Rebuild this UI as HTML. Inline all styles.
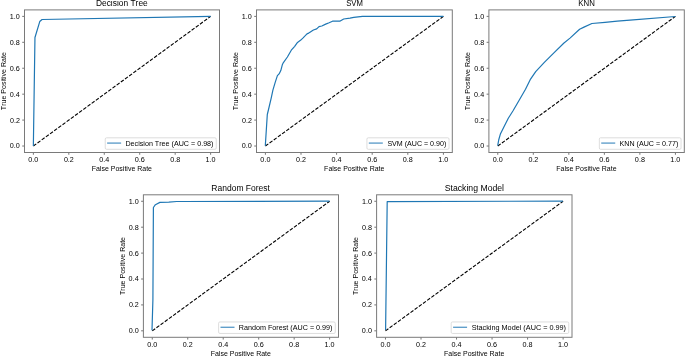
<!DOCTYPE html>
<html><head><meta charset="utf-8"><style>
html,body{margin:0;padding:0;background:#fff;}
body{width:685px;height:356px;overflow:hidden;}
svg{display:block;}
text{font-family:"Liberation Sans",sans-serif;font-kerning:none;}
svg{will-change:transform;}
.sp{fill:none;stroke:#7a7a7a;stroke-width:1.0;}
.tk{stroke:#000;stroke-width:0.55;}
.dg{stroke:#000;stroke-width:1.1;stroke-dasharray:3.6 1.56;}
.cv{fill:none;stroke:#1f77b4;stroke-width:1.2;stroke-linejoin:round;stroke-linecap:butt;}
.lg{fill:#fff;fill-opacity:0.8;stroke:#d4d4d4;stroke-width:0.8;}
.lh{stroke:#1f77b4;stroke-width:0.98;}
</style></head><body>
<svg width="685" height="356" viewBox="0 0 685 356">
<rect width="685" height="356" fill="#fff"/>
<g><line x1="33.36" y1="152.50" x2="33.36" y2="154.78" class="tk"/>
<line x1="22.23" y1="146.02" x2="24.50" y2="146.02" class="tk"/>
<text x="28.34" y="161.99" font-size="6.89" textLength="10.04" lengthAdjust="spacingAndGlyphs" fill="#000">0.0</text>
<text x="9.79" y="148.49" font-size="6.89" textLength="10.04" lengthAdjust="spacingAndGlyphs" fill="#000">0.0</text>
<line x1="68.82" y1="152.50" x2="68.82" y2="154.78" class="tk"/>
<line x1="22.23" y1="120.09" x2="24.50" y2="120.09" class="tk"/>
<text x="63.91" y="161.99" font-size="6.89" textLength="9.89" lengthAdjust="spacingAndGlyphs" fill="#000">0.2</text>
<text x="10.01" y="122.56" font-size="6.89" textLength="9.89" lengthAdjust="spacingAndGlyphs" fill="#000">0.2</text>
<line x1="104.27" y1="152.50" x2="104.27" y2="154.78" class="tk"/>
<line x1="22.23" y1="94.16" x2="24.50" y2="94.16" class="tk"/>
<text x="99.22" y="161.99" font-size="6.89" textLength="10.04" lengthAdjust="spacingAndGlyphs" fill="#000">0.4</text>
<text x="9.72" y="96.63" font-size="6.89" textLength="10.04" lengthAdjust="spacingAndGlyphs" fill="#000">0.4</text>
<line x1="139.73" y1="152.50" x2="139.73" y2="154.78" class="tk"/>
<line x1="22.23" y1="68.24" x2="24.50" y2="68.24" class="tk"/>
<text x="134.69" y="161.99" font-size="6.89" textLength="10.10" lengthAdjust="spacingAndGlyphs" fill="#000">0.6</text>
<text x="9.77" y="70.71" font-size="6.89" textLength="10.10" lengthAdjust="spacingAndGlyphs" fill="#000">0.6</text>
<line x1="175.18" y1="152.50" x2="175.18" y2="154.78" class="tk"/>
<line x1="22.23" y1="42.31" x2="24.50" y2="42.31" class="tk"/>
<text x="170.17" y="161.99" font-size="6.89" textLength="10.06" lengthAdjust="spacingAndGlyphs" fill="#000">0.8</text>
<text x="9.80" y="44.78" font-size="6.89" textLength="10.06" lengthAdjust="spacingAndGlyphs" fill="#000">0.8</text>
<line x1="210.64" y1="152.50" x2="210.64" y2="154.78" class="tk"/>
<line x1="22.23" y1="16.38" x2="24.50" y2="16.38" class="tk"/>
<text x="205.49" y="161.99" font-size="6.89" textLength="10.02" lengthAdjust="spacingAndGlyphs" fill="#000">1.0</text>
<text x="9.81" y="18.85" font-size="6.89" textLength="10.02" lengthAdjust="spacingAndGlyphs" fill="#000">1.0</text>
<line x1="33.36" y1="146.02" x2="210.64" y2="16.38" class="dg"/>
<path d="M33.36,146.02 L34.96,37.51 L39.75,21.57 L42.05,19.49 L210.64,16.38" class="cv"/>
<rect x="24.50" y="9.90" width="195.00" height="142.60" class="sp"/>
<text x="95.94" y="6.00" font-size="8.27" textLength="51.81" lengthAdjust="spacingAndGlyphs" fill="#000">Decision Tree</text>
<text x="91.71" y="170.90" font-size="6.89" textLength="60.31" lengthAdjust="spacingAndGlyphs" fill="#000">False Positive Rate</text>
<text transform="translate(6.00,81.20) rotate(-90)" x="-28.94" y="0" font-size="6.89" textLength="58.03" lengthAdjust="spacingAndGlyphs" fill="#000">True Positive Rate</text>
<rect x="105.24" y="137.81" width="111.01" height="11.49" rx="1.3" class="lg"/>
<line x1="107.14" y1="143.07" x2="121.14" y2="143.07" class="lh"/>
<text x="125.45" y="145.85" font-size="6.89" textLength="88.04" lengthAdjust="spacingAndGlyphs" fill="#000">Decision Tree (AUC = 0.98)</text>
<line x1="265.40" y1="152.50" x2="265.40" y2="154.78" class="tk"/>
<line x1="254.22" y1="146.02" x2="256.50" y2="146.02" class="tk"/>
<text x="260.38" y="161.99" font-size="6.89" textLength="10.04" lengthAdjust="spacingAndGlyphs" fill="#000">0.0</text>
<text x="241.79" y="148.49" font-size="6.89" textLength="10.04" lengthAdjust="spacingAndGlyphs" fill="#000">0.0</text>
<line x1="301.00" y1="152.50" x2="301.00" y2="154.78" class="tk"/>
<line x1="254.22" y1="120.09" x2="256.50" y2="120.09" class="tk"/>
<text x="296.09" y="161.99" font-size="6.89" textLength="9.89" lengthAdjust="spacingAndGlyphs" fill="#000">0.2</text>
<text x="242.01" y="122.56" font-size="6.89" textLength="9.89" lengthAdjust="spacingAndGlyphs" fill="#000">0.2</text>
<line x1="336.60" y1="152.50" x2="336.60" y2="154.78" class="tk"/>
<line x1="254.22" y1="94.16" x2="256.50" y2="94.16" class="tk"/>
<text x="331.55" y="161.99" font-size="6.89" textLength="10.04" lengthAdjust="spacingAndGlyphs" fill="#000">0.4</text>
<text x="241.72" y="96.63" font-size="6.89" textLength="10.04" lengthAdjust="spacingAndGlyphs" fill="#000">0.4</text>
<line x1="372.20" y1="152.50" x2="372.20" y2="154.78" class="tk"/>
<line x1="254.22" y1="68.24" x2="256.50" y2="68.24" class="tk"/>
<text x="367.17" y="161.99" font-size="6.89" textLength="10.10" lengthAdjust="spacingAndGlyphs" fill="#000">0.6</text>
<text x="241.77" y="70.71" font-size="6.89" textLength="10.10" lengthAdjust="spacingAndGlyphs" fill="#000">0.6</text>
<line x1="407.80" y1="152.50" x2="407.80" y2="154.78" class="tk"/>
<line x1="254.22" y1="42.31" x2="256.50" y2="42.31" class="tk"/>
<text x="402.79" y="161.99" font-size="6.89" textLength="10.06" lengthAdjust="spacingAndGlyphs" fill="#000">0.8</text>
<text x="241.80" y="44.78" font-size="6.89" textLength="10.06" lengthAdjust="spacingAndGlyphs" fill="#000">0.8</text>
<line x1="443.40" y1="152.50" x2="443.40" y2="154.78" class="tk"/>
<line x1="254.22" y1="16.38" x2="256.50" y2="16.38" class="tk"/>
<text x="438.25" y="161.99" font-size="6.89" textLength="10.02" lengthAdjust="spacingAndGlyphs" fill="#000">1.0</text>
<text x="241.81" y="18.85" font-size="6.89" textLength="10.02" lengthAdjust="spacingAndGlyphs" fill="#000">1.0</text>
<line x1="265.40" y1="146.02" x2="443.40" y2="16.38" class="dg"/>
<path d="M265.30,145.70 L267.30,114.50 L268.40,110.00 L271.20,98.10 L272.90,90.20 L275.20,82.40 L277.40,75.60 L279.10,73.90 L280.80,70.60 L282.30,64.80 L283.40,62.60 L287.40,57.00 L291.30,50.20 L294.70,46.30 L297.50,42.40 L300.80,40.10 L303.10,37.90 L307.00,33.90 L308.70,33.10 L310.00,32.20 L313.40,30.00 L316.70,28.90 L319.00,26.60 L321.80,26.00 L325.70,24.10 L329.10,22.70 L332.50,21.20 L339.80,21.20 L343.70,19.00 L350.00,18.20 L353.80,17.40 L362.50,16.40 L443.40,16.40" class="cv"/>
<rect x="256.50" y="9.90" width="195.80" height="142.60" class="sp"/>
<text x="346.18" y="6.00" font-size="8.27" textLength="16.72" lengthAdjust="spacingAndGlyphs" fill="#000">SVM</text>
<text x="324.11" y="170.90" font-size="6.89" textLength="60.31" lengthAdjust="spacingAndGlyphs" fill="#000">False Positive Rate</text>
<text transform="translate(238.00,81.20) rotate(-90)" x="-28.94" y="0" font-size="6.89" textLength="58.03" lengthAdjust="spacingAndGlyphs" fill="#000">True Positive Rate</text>
<rect x="366.92" y="137.81" width="82.13" height="11.49" rx="1.3" class="lg"/>
<line x1="368.82" y1="143.07" x2="382.82" y2="143.07" class="lh"/>
<text x="387.40" y="145.85" font-size="6.89" textLength="58.89" lengthAdjust="spacingAndGlyphs" fill="#000">SVM (AUC = 0.90)</text>
<line x1="497.78" y1="152.50" x2="497.78" y2="154.78" class="tk"/>
<line x1="486.62" y1="146.02" x2="488.90" y2="146.02" class="tk"/>
<text x="492.76" y="161.99" font-size="6.89" textLength="10.04" lengthAdjust="spacingAndGlyphs" fill="#000">0.0</text>
<text x="474.19" y="148.49" font-size="6.89" textLength="10.04" lengthAdjust="spacingAndGlyphs" fill="#000">0.0</text>
<line x1="533.31" y1="152.50" x2="533.31" y2="154.78" class="tk"/>
<line x1="486.62" y1="120.09" x2="488.90" y2="120.09" class="tk"/>
<text x="528.40" y="161.99" font-size="6.89" textLength="9.89" lengthAdjust="spacingAndGlyphs" fill="#000">0.2</text>
<text x="474.41" y="122.56" font-size="6.89" textLength="9.89" lengthAdjust="spacingAndGlyphs" fill="#000">0.2</text>
<line x1="568.84" y1="152.50" x2="568.84" y2="154.78" class="tk"/>
<line x1="486.62" y1="94.16" x2="488.90" y2="94.16" class="tk"/>
<text x="563.78" y="161.99" font-size="6.89" textLength="10.04" lengthAdjust="spacingAndGlyphs" fill="#000">0.4</text>
<text x="474.12" y="96.63" font-size="6.89" textLength="10.04" lengthAdjust="spacingAndGlyphs" fill="#000">0.4</text>
<line x1="604.36" y1="152.50" x2="604.36" y2="154.78" class="tk"/>
<line x1="486.62" y1="68.24" x2="488.90" y2="68.24" class="tk"/>
<text x="599.33" y="161.99" font-size="6.89" textLength="10.10" lengthAdjust="spacingAndGlyphs" fill="#000">0.6</text>
<text x="474.17" y="70.71" font-size="6.89" textLength="10.10" lengthAdjust="spacingAndGlyphs" fill="#000">0.6</text>
<line x1="639.89" y1="152.50" x2="639.89" y2="154.78" class="tk"/>
<line x1="486.62" y1="42.31" x2="488.90" y2="42.31" class="tk"/>
<text x="634.88" y="161.99" font-size="6.89" textLength="10.06" lengthAdjust="spacingAndGlyphs" fill="#000">0.8</text>
<text x="474.20" y="44.78" font-size="6.89" textLength="10.06" lengthAdjust="spacingAndGlyphs" fill="#000">0.8</text>
<line x1="675.42" y1="152.50" x2="675.42" y2="154.78" class="tk"/>
<line x1="486.62" y1="16.38" x2="488.90" y2="16.38" class="tk"/>
<text x="670.27" y="161.99" font-size="6.89" textLength="10.02" lengthAdjust="spacingAndGlyphs" fill="#000">1.0</text>
<text x="474.21" y="18.85" font-size="6.89" textLength="10.02" lengthAdjust="spacingAndGlyphs" fill="#000">1.0</text>
<line x1="497.78" y1="146.02" x2="675.42" y2="16.38" class="dg"/>
<path d="M497.70,145.60 L498.70,140.00 L500.50,133.70 L504.00,126.70 L508.30,118.30 L513.20,110.50 L519.30,100.00 L525.50,89.30 L530.20,79.70 L535.70,71.70 L544.10,62.70 L553.90,52.80 L563.70,43.30 L570.00,38.10 L579.60,29.30 L584.00,27.10 L591.90,23.50 L605.00,22.30 L617.30,21.10 L630.00,20.20 L675.40,16.50" class="cv"/>
<rect x="488.90" y="9.90" width="195.40" height="142.60" class="sp"/>
<text x="578.33" y="6.00" font-size="8.27" textLength="16.53" lengthAdjust="spacingAndGlyphs" fill="#000">KNN</text>
<text x="556.31" y="170.90" font-size="6.89" textLength="60.31" lengthAdjust="spacingAndGlyphs" fill="#000">False Positive Rate</text>
<text transform="translate(470.40,81.20) rotate(-90)" x="-28.94" y="0" font-size="6.89" textLength="58.03" lengthAdjust="spacingAndGlyphs" fill="#000">True Positive Rate</text>
<rect x="599.33" y="137.81" width="81.72" height="11.49" rx="1.3" class="lg"/>
<line x1="601.23" y1="143.07" x2="615.23" y2="143.07" class="lh"/>
<text x="619.54" y="145.85" font-size="6.89" textLength="58.75" lengthAdjust="spacingAndGlyphs" fill="#000">KNN (AUC = 0.77)</text>
<line x1="152.27" y1="337.30" x2="152.27" y2="339.57" class="tk"/>
<line x1="141.12" y1="330.82" x2="143.40" y2="330.82" class="tk"/>
<text x="147.25" y="346.79" font-size="6.89" textLength="10.04" lengthAdjust="spacingAndGlyphs" fill="#000">0.0</text>
<text x="128.69" y="333.29" font-size="6.89" textLength="10.04" lengthAdjust="spacingAndGlyphs" fill="#000">0.0</text>
<line x1="187.74" y1="337.30" x2="187.74" y2="339.57" class="tk"/>
<line x1="141.12" y1="304.91" x2="143.40" y2="304.91" class="tk"/>
<text x="182.83" y="346.79" font-size="6.89" textLength="9.89" lengthAdjust="spacingAndGlyphs" fill="#000">0.2</text>
<text x="128.91" y="307.38" font-size="6.89" textLength="9.89" lengthAdjust="spacingAndGlyphs" fill="#000">0.2</text>
<line x1="223.21" y1="337.30" x2="223.21" y2="339.57" class="tk"/>
<line x1="141.12" y1="279.00" x2="143.40" y2="279.00" class="tk"/>
<text x="218.16" y="346.79" font-size="6.89" textLength="10.04" lengthAdjust="spacingAndGlyphs" fill="#000">0.4</text>
<text x="128.62" y="281.47" font-size="6.89" textLength="10.04" lengthAdjust="spacingAndGlyphs" fill="#000">0.4</text>
<line x1="258.69" y1="337.30" x2="258.69" y2="339.57" class="tk"/>
<line x1="141.12" y1="253.10" x2="143.40" y2="253.10" class="tk"/>
<text x="253.65" y="346.79" font-size="6.89" textLength="10.10" lengthAdjust="spacingAndGlyphs" fill="#000">0.6</text>
<text x="128.67" y="255.57" font-size="6.89" textLength="10.10" lengthAdjust="spacingAndGlyphs" fill="#000">0.6</text>
<line x1="294.16" y1="337.30" x2="294.16" y2="339.57" class="tk"/>
<line x1="141.12" y1="227.19" x2="143.40" y2="227.19" class="tk"/>
<text x="289.14" y="346.79" font-size="6.89" textLength="10.06" lengthAdjust="spacingAndGlyphs" fill="#000">0.8</text>
<text x="128.70" y="229.66" font-size="6.89" textLength="10.06" lengthAdjust="spacingAndGlyphs" fill="#000">0.8</text>
<line x1="329.63" y1="337.30" x2="329.63" y2="339.57" class="tk"/>
<line x1="141.12" y1="201.28" x2="143.40" y2="201.28" class="tk"/>
<text x="324.49" y="346.79" font-size="6.89" textLength="10.02" lengthAdjust="spacingAndGlyphs" fill="#000">1.0</text>
<text x="128.71" y="203.75" font-size="6.89" textLength="10.02" lengthAdjust="spacingAndGlyphs" fill="#000">1.0</text>
<line x1="152.27" y1="330.82" x2="329.63" y2="201.28" class="dg"/>
<path d="M152.00,330.30 L152.90,300.00 L153.40,207.50 L155.40,204.70 L159.90,202.40 L168.80,202.10 L176.70,201.50 L183.00,201.50 L329.50,201.10" class="cv"/>
<rect x="143.40" y="194.80" width="195.10" height="142.50" class="sp"/>
<text x="211.38" y="190.90" font-size="8.27" textLength="58.50" lengthAdjust="spacingAndGlyphs" fill="#000">Random Forest</text>
<text x="210.66" y="355.70" font-size="6.89" textLength="60.31" lengthAdjust="spacingAndGlyphs" fill="#000">False Positive Rate</text>
<text transform="translate(124.90,266.05) rotate(-90)" x="-28.94" y="0" font-size="6.89" textLength="58.03" lengthAdjust="spacingAndGlyphs" fill="#000">True Positive Rate</text>
<rect x="218.60" y="321.96" width="116.65" height="11.49" rx="1.3" class="lg"/>
<line x1="220.50" y1="327.22" x2="234.50" y2="327.22" class="lh"/>
<text x="238.81" y="330.00" font-size="6.89" textLength="93.68" lengthAdjust="spacingAndGlyphs" fill="#000">Random Forest (AUC = 0.99)</text>
<line x1="385.48" y1="337.30" x2="385.48" y2="339.57" class="tk"/>
<line x1="374.33" y1="330.82" x2="376.60" y2="330.82" class="tk"/>
<text x="380.46" y="346.79" font-size="6.89" textLength="10.04" lengthAdjust="spacingAndGlyphs" fill="#000">0.0</text>
<text x="361.89" y="333.29" font-size="6.89" textLength="10.04" lengthAdjust="spacingAndGlyphs" fill="#000">0.0</text>
<line x1="421.01" y1="337.30" x2="421.01" y2="339.57" class="tk"/>
<line x1="374.33" y1="304.91" x2="376.60" y2="304.91" class="tk"/>
<text x="416.10" y="346.79" font-size="6.89" textLength="9.89" lengthAdjust="spacingAndGlyphs" fill="#000">0.2</text>
<text x="362.11" y="307.38" font-size="6.89" textLength="9.89" lengthAdjust="spacingAndGlyphs" fill="#000">0.2</text>
<line x1="456.54" y1="337.30" x2="456.54" y2="339.57" class="tk"/>
<line x1="374.33" y1="279.00" x2="376.60" y2="279.00" class="tk"/>
<text x="451.48" y="346.79" font-size="6.89" textLength="10.04" lengthAdjust="spacingAndGlyphs" fill="#000">0.4</text>
<text x="361.82" y="281.47" font-size="6.89" textLength="10.04" lengthAdjust="spacingAndGlyphs" fill="#000">0.4</text>
<line x1="492.06" y1="337.30" x2="492.06" y2="339.57" class="tk"/>
<line x1="374.33" y1="253.10" x2="376.60" y2="253.10" class="tk"/>
<text x="487.03" y="346.79" font-size="6.89" textLength="10.10" lengthAdjust="spacingAndGlyphs" fill="#000">0.6</text>
<text x="361.87" y="255.57" font-size="6.89" textLength="10.10" lengthAdjust="spacingAndGlyphs" fill="#000">0.6</text>
<line x1="527.59" y1="337.30" x2="527.59" y2="339.57" class="tk"/>
<line x1="374.33" y1="227.19" x2="376.60" y2="227.19" class="tk"/>
<text x="522.58" y="346.79" font-size="6.89" textLength="10.06" lengthAdjust="spacingAndGlyphs" fill="#000">0.8</text>
<text x="361.90" y="229.66" font-size="6.89" textLength="10.06" lengthAdjust="spacingAndGlyphs" fill="#000">0.8</text>
<line x1="563.12" y1="337.30" x2="563.12" y2="339.57" class="tk"/>
<line x1="374.33" y1="201.28" x2="376.60" y2="201.28" class="tk"/>
<text x="557.97" y="346.79" font-size="6.89" textLength="10.02" lengthAdjust="spacingAndGlyphs" fill="#000">1.0</text>
<text x="361.91" y="203.75" font-size="6.89" textLength="10.02" lengthAdjust="spacingAndGlyphs" fill="#000">1.0</text>
<line x1="385.48" y1="330.82" x2="563.12" y2="201.28" class="dg"/>
<path d="M385.60,330.10 L387.20,201.60 L562.90,201.10" class="cv"/>
<rect x="376.60" y="194.80" width="195.40" height="142.50" class="sp"/>
<text x="444.75" y="190.90" font-size="8.27" textLength="59.28" lengthAdjust="spacingAndGlyphs" fill="#000">Stacking Model</text>
<text x="444.01" y="355.70" font-size="6.89" textLength="60.31" lengthAdjust="spacingAndGlyphs" fill="#000">False Positive Rate</text>
<text transform="translate(358.10,266.05) rotate(-90)" x="-28.94" y="0" font-size="6.89" textLength="58.03" lengthAdjust="spacingAndGlyphs" fill="#000">True Positive Rate</text>
<rect x="451.18" y="321.96" width="117.57" height="11.49" rx="1.3" class="lg"/>
<line x1="453.08" y1="327.22" x2="467.08" y2="327.22" class="lh"/>
<text x="471.65" y="330.00" font-size="6.89" textLength="94.35" lengthAdjust="spacingAndGlyphs" fill="#000">Stacking Model (AUC = 0.99)</text></g>
</svg>
</body></html>
